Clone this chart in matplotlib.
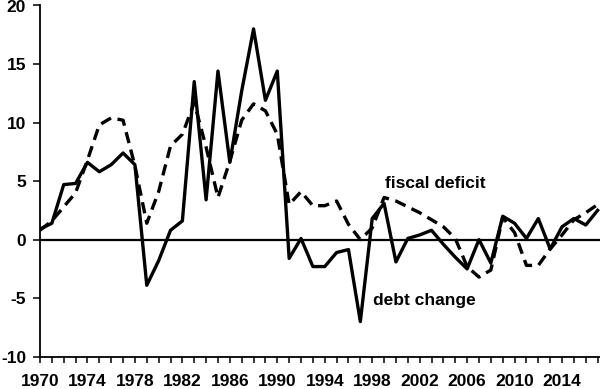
"""Debt change vs. fiscal deficit, 1970-2017 (percent)."""

import matplotlib

matplotlib.use("Agg")
import matplotlib.pyplot as plt

YEARS = list(range(1970, 2018))

DEBT_CHANGE = [
    0.9, 1.4, 4.7, 4.8, 6.6, 5.8, 6.4, 7.4, 6.4, -3.9,
    -1.8, 0.8, 1.6, 13.5, 3.4, 14.4, 6.6, 12.7, 18.0, 11.9,
    14.4, -1.6, 0.1, -2.3, -2.3, -1.1, -0.85, -7.0, 1.8, 3.1,
    -1.9, 0.1, 0.4, 0.8, -0.4, -1.5, -2.5, 0.0, -2.0, 2.0,
    1.4, 0.1, 1.8, -0.8, 1.1, 1.8, 1.25, 2.5,
]

FISCAL_DEFICIT = [
    0.8, 1.6, 2.8, 4.0, 6.8, 9.8, 10.4, 10.2, 6.3, 1.4,
    4.1, 8.0, 9.0, 11.7, 7.9, 3.6, 6.7, 10.2, 11.6, 11.0,
    9.0, 3.0, 4.1, 2.9, 2.9, 3.3, 1.3, 0.0, 1.0, 3.6,
    3.3, 2.8, 2.3, 1.7, 1.1, 0.1, -2.3, -3.2, -2.6, 1.9,
    0.6, -2.2, -2.2, -0.8, 0.4, 1.7, 2.3, 3.0,
]

Y_TICKS = [-10, -5, 0, 5, 10, 15, 20]
LABEL_EVERY = 4

plt.rcParams.update(
    {
        "font.family": ["Liberation Sans", "DejaVu Sans"],
        "font.weight": "bold",
        "font.size": 12.5,
        "axes.unicode_minus": False,
    }
)

fig = plt.figure(figsize=(6.0, 3.89), dpi=100, facecolor="white")
ax = fig.add_axes([40 / 600, 1 - 356.7 / 389, 560 / 600, (356.7 - 5.5) / 389])

ax.axhline(0, color="black", lw=1.6, zorder=2)
ax.plot(YEARS, FISCAL_DEFICIT, color="black", lw=2.4, ls="--", dashes=(3.4, 2.0), zorder=3)
ax.plot(YEARS, DEBT_CHANGE, color="black", lw=2.4, ls="-", zorder=4)

ax.text(1999.07, 4.4, "fiscal deficit", ha="left", va="baseline", fontsize=12.5, fontweight="bold")
ax.text(1998.03, -5.6, "debt change", ha="left", va="baseline", fontsize=12.5, fontweight="bold")

ax.set_xlim(1970, 2017.2)
ax.set_ylim(-10, 20)
ax.set_yticks(Y_TICKS)
ax.set_yticklabels([str(v) for v in Y_TICKS])
ax.set_xticks(YEARS)
ax.set_xticklabels([str(y) if (y - YEARS[0]) % LABEL_EVERY == 0 else "" for y in YEARS])

for side in ("top", "right"):
    ax.spines[side].set_visible(False)
for side in ("left", "bottom"):
    ax.spines[side].set_linewidth(1.3)
    ax.spines[side].set_color("black")

ax.tick_params(axis="y", direction="out", length=5, width=1.1, pad=5)
ax.tick_params(axis="x", direction="out", length=4.3, width=1.1, pad=8.5)

fig.savefig("out.png", dpi=100, facecolor="white")
